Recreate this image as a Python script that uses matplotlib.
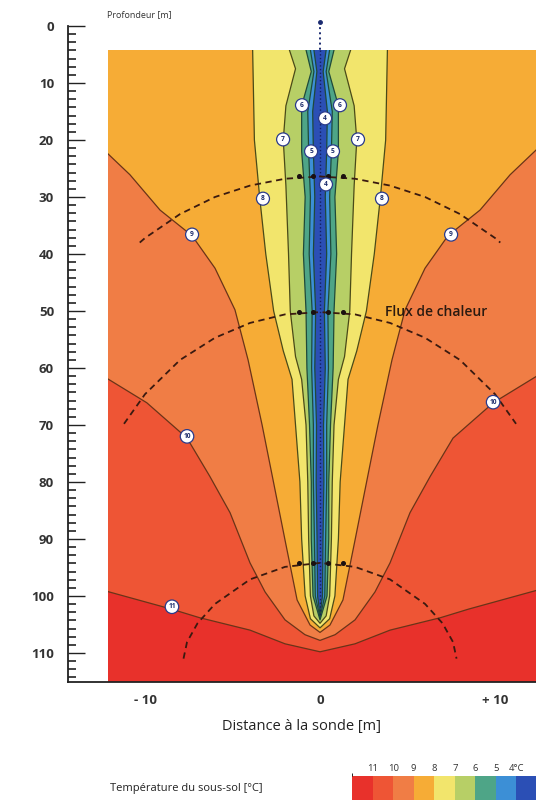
import numpy as np
import matplotlib
matplotlib.use('Agg')
import matplotlib.pyplot as plt
from matplotlib.patches import Rectangle
from matplotlib.colors import ListedColormap, BoundaryNorm
from matplotlib.ticker import MultipleLocator

plt.rcParams['font.family'] = ['Open Sans', 'DejaVu Sans']

# --- data ----------------------------------------------------------------
# temperature classes (colder -> warmer polygons drawn on top of each other)
class_colors = ['#2b4fb5', '#3c8fd6', '#4ea587', '#b7cf66', '#f2e56c',
                '#f6ac36', '#f07d45', '#ee5535', '#e8312b']   # <4 ... >11
cbar_ticks = [11, 10, 9, 8, 7, 6, 5, 4]
cbar_labels = ['11', '10', '9', '8', '7', '6', '5', '4\u00b0C']

# isotherms: half width to the probe [m] vs depth [m], top -> bottom
iso11_hw = [12.4, 8.5, 6.9, 4.0, 2.0, 0.0]
iso11_d = [99.0, 102.3, 103.8, 106.0, 108.4, 109.8]

iso10_hw = [12.4, 9.9, 7.6, 6.3, 5.14, 4.0, 3.14, 2.0, 0.86, 0.0]
iso10_d = [61.4, 66.1, 72.3, 79.0, 85.4, 94.2, 99.3, 104.2, 106.8, 107.8]

iso9_hw = [12.4, 10.86, 9.14, 7.31, 6.0, 4.86, 4.11, 3.31, 2.57, 2.0, 1.31, 0.57, 0.0]
iso9_d = [21.6, 26.1, 32.3, 36.8, 42.5, 49.8, 58.6, 70.0, 81.4, 90.2, 100.7, 105.1, 106.4]

iso8_hw = [3.85, 3.75, 3.45, 3.1, 2.65, 2.1, 1.6, 1.4, 1.15, 1.05, 0.85, 0.55, 0.0]
iso8_d = [4.2, 20.0, 30.0, 40.0, 50.0, 57.0, 62.0, 70.0, 80.0, 90.0, 100.0, 104.0, 105.6]

iso7_hw = [1.75, 1.4, 1.95, 2.1, 1.95, 1.8, 1.7, 1.4, 1.05, 0.8, 0.7, 0.65, 0.55, 0.35, 0.0]
iso7_d = [4.2, 7.5, 14.0, 20.0, 28.0, 40.0, 50.0, 58.0, 62.0, 70.0, 80.0, 90.0, 100.0, 103.5, 104.8]

iso6_hw = [0.8, 0.5, 1.05, 1.05, 0.85, 0.95, 0.8, 0.75, 0.6, 0.5, 0.5, 0.4, 0.0]
iso6_d = [4.2, 8.0, 14.0, 22.0, 30.0, 40.0, 50.0, 60.0, 70.0, 80.0, 90.0, 100.0, 104.2]

iso5_hw = [0.55, 0.35, 0.7, 0.65, 0.55, 0.62, 0.45, 0.48, 0.38, 0.38, 0.32, 0.27, 0.0]
iso5_d = [4.2, 8.0, 15.0, 22.0, 30.0, 40.0, 50.0, 60.0, 70.0, 80.0, 90.0, 100.0, 103.8]

iso4_hw = [0.35, 0.18, 0.42, 0.38, 0.3, 0.38, 0.25, 0.3, 0.2, 0.22, 0.17, 0.14, 0.0]
iso4_d = [4.2, 8.0, 15.0, 22.0, 30.0, 40.0, 50.0, 60.0, 70.0, 80.0, 90.0, 100.0, 103.4]

# heat flux arcs (half width [m], depth [m])
arc1_hw = [0, 2, 4, 6, 8, 10, 10.3]
arc1_d = [26.4, 26.8, 28.0, 30.0, 33.0, 37.2, 38.0]
arc2_hw = [0, 2, 4, 6, 8, 10, 11.2]
arc2_d = [50.2, 50.6, 52.1, 54.7, 58.6, 64.6, 69.8]
arc3_hw = [0, 2, 4, 6, 7, 7.6, 7.8]
arc3_d = [94.2, 94.9, 97.1, 101.4, 104.8, 108.1, 111.0]

# circled isotherm labels
lab_x = [-1.03, 1.14, 0.29, -2.11, -0.51, 0.74, 2.17, 0.34, -3.26, 3.54,
         -7.31, 7.49, -7.6, 9.89, -8.46]
lab_d = [13.9, 13.9, 16.2, 19.9, 22.0, 22.0, 19.9, 27.8, 30.3, 30.3,
         36.6, 36.6, 72.0, 66.0, 101.9]
lab_txt = ['6', '6', '4', '7', '5', '5', '7', '4', '8', '8',
           '9', '9', '10', '10', '11']

field_left, field_right = -12.1, 12.6
field_top, field_bottom = 4.2, 115.1


def iso_polygon(hw, d):
    xs = [hw[0]] + list(hw) + [-v for v in hw[::-1]] + [-hw[0]]
    ys = [field_top] + list(d) + list(d[::-1]) + [field_top]
    return xs, ys


def main():
    fig = plt.figure(figsize=(5.36, 8.0), dpi=100)
    ax = fig.add_axes([68/536, 1-682/800, 1-68/536, (682-26)/800])
    ax.set_xlim(-14.4, 12.34)
    ax.set_ylim(115.1, 0)

    clip = Rectangle((field_left, field_top), field_right-field_left,
                     field_bottom-field_top, transform=ax.transData)
    ax.add_patch(Rectangle((field_left, field_top), field_right-field_left,
                           field_bottom-field_top, fc=class_colors[8], ec='none'))

    isos = [(iso11_hw, iso11_d), (iso10_hw, iso10_d), (iso9_hw, iso9_d),
            (iso8_hw, iso8_d), (iso7_hw, iso7_d), (iso6_hw, iso6_d),
            (iso5_hw, iso5_d), (iso4_hw, iso4_d)]
    for k, (hw, d) in enumerate(isos):
        xs, ys = iso_polygon(hw, d)
        p = ax.fill(xs, ys, color=class_colors[7-k], lw=0)[0]
        p.set_clip_path(clip)
    for k, (hw, d) in enumerate(isos):
        lc = '#6a3418' if k < 3 else ('#4a4a18' if k < 5 else '#1f4a3a')
        xs = list(hw) + [-v for v in hw[::-1]]
        ys = list(d) + list(d[::-1])
        ln, = ax.plot(xs, ys, color=lc, lw=0.9)
        ln.set_clip_path(clip)

    # probe
    ax.plot([0, 0], [-0.7, field_top], ls=':', color='#1a2a70', lw=1.4, clip_on=False)
    ax.plot([0], [-0.7], 'o', color='#1a2a70', ms=2.5, clip_on=False)
    ax.plot([0, 0], [field_top, 103.5], ls=':', color='#142060', lw=1.0)

    # heat flux arcs
    for hw, d in [(arc1_hw, arc1_d), (arc2_hw, arc2_d), (arc3_hw, arc3_d)]:
        xs = [-v for v in hw[::-1]] + list(hw[1:])
        ys = list(d[::-1]) + list(d[1:])
        ax.plot(xs, ys, ls=(0, (3.5, 2.5)), color='#3a1a10', lw=1.3)
        ax.plot([-1.2, -0.4, 0.45, 1.3], [d[0]]*4, 'o', color='#1a1010', ms=2.6)

    for x, d, s in zip(lab_x, lab_d, lab_txt):
        ax.text(x, d, s, ha='center', va='center', fontsize=4.8, color='#1a2a6a',
                fontweight='bold',
                bbox=dict(boxstyle='circle,pad=0.45', fc='white', ec='#2a3a8a', lw=0.9))

    ax.text(3.7, 50.2, 'Flux de chaleur', fontsize=10, color='#2a1a10',
            ha='left', va='center', fontweight='semibold')

    # axes styling
    for s in ['top', 'right']:
        ax.spines[s].set_visible(False)
    ax.spines['left'].set_linewidth(1.3)
    ax.spines['bottom'].set_linewidth(1.3)
    ax.spines['left'].set_color('#222222')
    ax.spines['bottom'].set_color('#222222')
    ax.yaxis.set_major_locator(MultipleLocator(10))
    ax.yaxis.set_minor_locator(MultipleLocator(10/7))
    ax.tick_params(axis='y', which='major', direction='in', length=12, width=1.0,
                   pad=10, labelsize=9.5, labelcolor='#333333', color='#222222')
    ax.tick_params(axis='y', which='minor', direction='in', length=6, width=1.2,
                   color='#222222')
    ax.set_yticks(range(0, 111, 10))
    for t in ax.get_yticklabels():
        t.set_fontweight('bold')
    ax.set_xticks([-10, 0, 10])
    ax.set_xticklabels(['- 10', '0', '+ 10'], fontweight='bold')
    ax.tick_params(axis='x', length=0, pad=9, labelsize=9.5, labelcolor='#333333')
    ax.set_xlabel('Distance \u00e0 la sonde [m]', fontsize=10.5, color='#222222',
                  labelpad=8)
    fig.text(107/536, 1-15/800, 'Profondeur [m]', fontsize=6.5, color='#333333',
             ha='left', va='center')

    # legend bar
    fig.text(110/536, 1-788/800, 'Temp\u00e9rature du sous-sol [\u00b0C]', fontsize=8,
             color='#222222', ha='left', va='center')
    cax = fig.add_axes([352/536, 0.0, 185/536, 24/800])
    cmap = ListedColormap(class_colors)
    norm = BoundaryNorm([3, 4, 5, 6, 7, 8, 9, 10, 11, 12], cmap.N)
    sm = plt.cm.ScalarMappable(norm=norm, cmap=cmap)
    cb = fig.colorbar(sm, cax=cax, orientation='horizontal', drawedges=True)
    cb.outline.set_visible(False)
    cb.dividers.set_color('#333333')
    cb.dividers.set_linewidth(0.8)
    cax.invert_xaxis()
    cax.xaxis.set_ticks_position('top')
    cb.set_ticks(cbar_ticks)
    cb.set_ticklabels(cbar_labels)
    cax.tick_params(length=0, pad=2, labelsize=6.8, labelcolor='#333333')

    fig.savefig('out.png', dpi=100)


if __name__ == '__main__':
    main()
